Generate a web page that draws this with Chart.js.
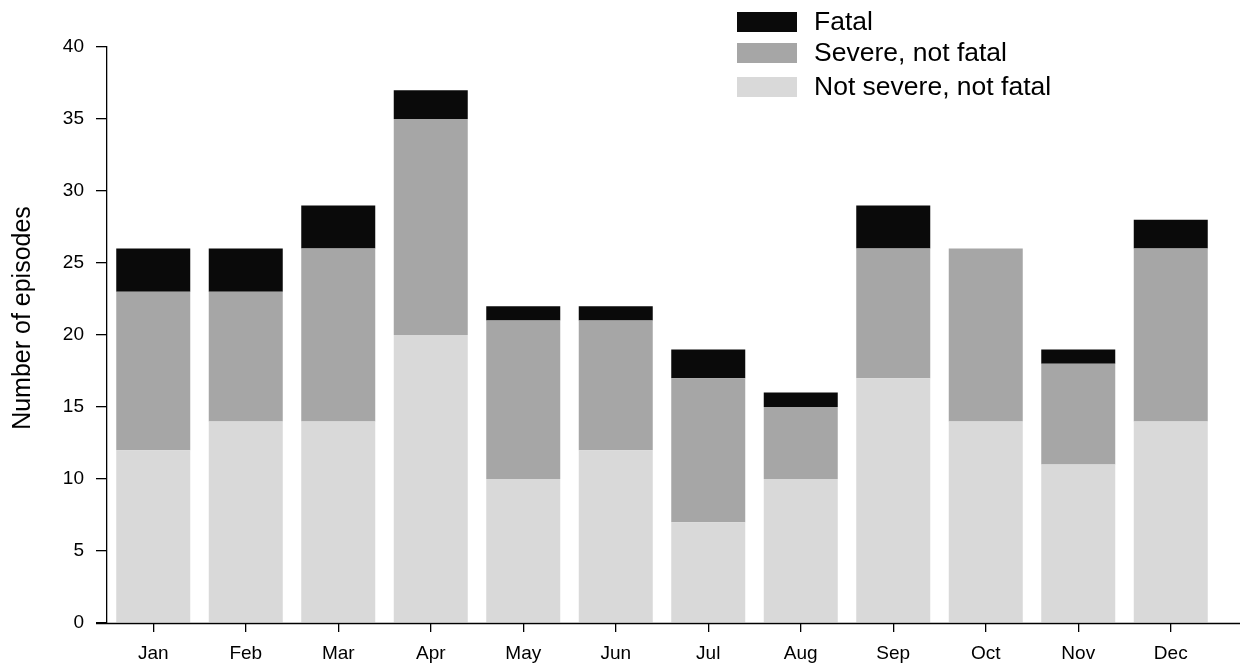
<!DOCTYPE html>
<html>
<head>
<meta charset="utf-8">
<script src="https://cdn.jsdelivr.net/npm/chart.js@4"></script>
<style>
  html, body { margin: 0; padding: 0; background: #fff; }
  #wrap { width: 1253px; height: 665px; }
</style>
</head>
<body>
<div id="wrap"><canvas id="episodesChart" width="1253" height="665"></canvas></div>
<script>
const months = ['Jan', 'Feb', 'Mar', 'Apr', 'May', 'Jun', 'Jul', 'Aug', 'Sep', 'Oct', 'Nov', 'Dec'];
const notSevere = [12, 14, 14, 20, 10, 12, 7, 10, 17, 14, 11, 14];
const severe = [11, 9, 12, 15, 11, 9, 10, 5, 9, 12, 7, 12];
const fatal = [3, 3, 3, 2, 1, 1, 2, 1, 3, 0, 1, 2];
const yTicks = [0, 5, 10, 15, 20, 25, 30, 35, 40];
const yTitle = 'Number of episodes';

const FONT = '"Liberation Sans", Arial, Helvetica, sans-serif';

// long x axis line, y title and legend drawn by hand, like the original figure
const extras = {
    id: 'extras',
    afterDraw(chart) {
        const ctx = chart.ctx;
        const area = chart.chartArea;
        const y0 = chart.scales.y.getPixelForValue(0);
        ctx.save();
        ctx.strokeStyle = '#000';
        ctx.lineWidth = 1.3;
        ctx.beginPath();
        ctx.moveTo(area.left - 11, y0 + 0.5);
        ctx.lineTo(area.right + 23, y0 + 0.5);
        ctx.stroke();

        // y title
        ctx.save();
        ctx.translate(23, 318);
        ctx.rotate(-Math.PI / 2);
        ctx.font = '25px ' + FONT;
        ctx.fillStyle = '#000';
        ctx.textAlign = 'center';
        ctx.textBaseline = 'middle';
        ctx.fillText(yTitle, 0, 0);
        ctx.restore();

        // legend, top dataset first
        const sets = chart.data.datasets.slice().reverse();
        const rows = [22, 53, 87];
        ctx.textBaseline = 'middle';
        sets.forEach(function(ds, i) {
            ctx.fillStyle = ds.backgroundColor;
            ctx.fillRect(737, rows[i] - 10, 60, 20);
            ctx.save();
            ctx.translate(814, rows[i] + 1);
            ctx.scale(1.06, 1);
            ctx.font = '25px ' + FONT;
            ctx.fillStyle = '#000';
            ctx.fillText(ds.label, 0, 0);
            ctx.restore();
        });
        ctx.restore();
    }
};

new Chart(document.getElementById('episodesChart'), {
    type: 'bar',
    data: {
        labels: months,
        datasets: [
            { label: 'Not severe, not fatal', data: notSevere, backgroundColor: '#d9d9d9' },
            { label: 'Severe, not fatal', data: severe, backgroundColor: '#a6a6a6' },
            { label: 'Fatal', data: fatal, backgroundColor: '#0a0a0a' }
        ]
    },
    options: {
        responsive: false,
        animation: false,
        layout: { padding: { left: 0, top: 47, right: 36, bottom: 0 } },
        datasets: { bar: { categoryPercentage: 1, barPercentage: 0.8 } },
        plugins: { legend: { display: false }, tooltip: { enabled: false } },
        scales: {
            x: {
                stacked: true,
                afterFit: function(scale) { scale.height = 42; },
                grid: { offset: false, drawOnChartArea: false, tickLength: 9, color: '#000', lineWidth: 1.3 },
                border: { display: false },
                ticks: { color: '#000', padding: 10, font: { family: FONT, size: 19 } }
            },
            y: {
                stacked: true,
                min: 0,
                max: 40,
                afterFit: function(scale) { scale.width = 107; },
                afterBuildTicks: function(scale) { scale.ticks = yTicks.map(v => ({ value: v })); },
                grid: { drawOnChartArea: false, tickLength: 11, color: '#000', lineWidth: 1.3 },
                border: { display: true, color: '#000', width: 1.3 },
                ticks: { color: '#000', padding: 12, font: { family: FONT, size: 19 } }
            }
        }
    },
    plugins: [extras]
});
</script>
</body>
</html>
